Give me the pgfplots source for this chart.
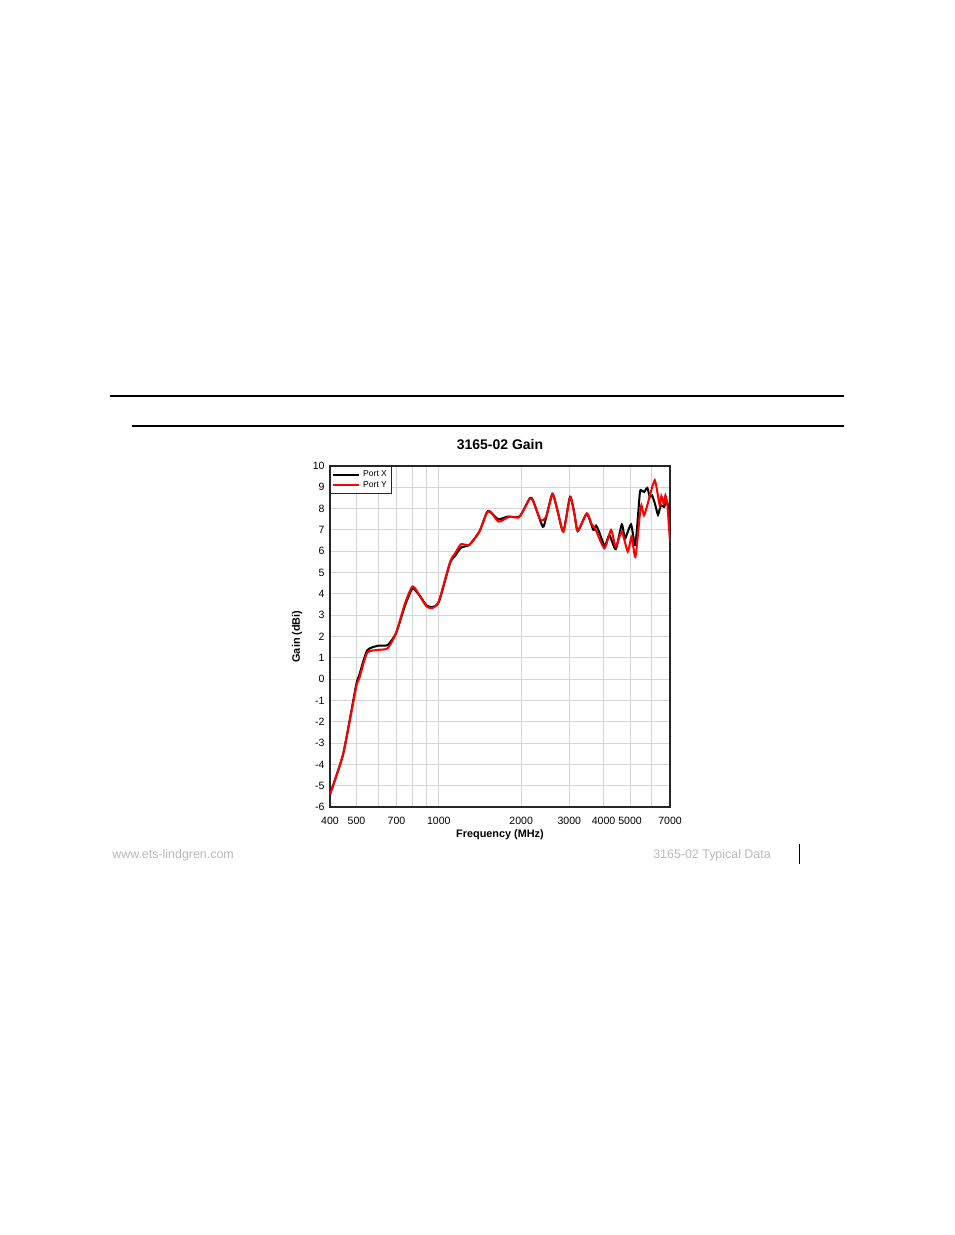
\documentclass[border=0pt]{standalone}
\usepackage{fontspec}
\setmainfont{Liberation Sans}
\usepackage{pgfplots}
\pgfplotsset{compat=1.18}

\pgfplotstableread{
f g
400 -5.4
447 -3.5
498 -0.3
512 0.2
547 1.35
601 1.57
650 1.6
697 2.15
752 3.45
800 4.25
841 4.0
900 3.47
946 3.38
1000 3.62
1099 5.45
1146 5.78
1205 6.17
1292 6.3
1406 6.92
1494 7.8
1530 7.88
1650 7.5
1779 7.62
1952 7.6
2010 7.78
2154 8.5
2215 8.35
2398 7.15
2470 7.62
2600 8.69
2712 7.93
2852 6.92
3017 8.56
3128 7.78
3219 6.95
3473 7.75
3672 7.0
3755 7.2
3851 6.92
4040 6.25
4200 6.76
4432 6.1
4664 7.26
4793 6.6
5041 7.26
5228 6.3
5427 8.7
5500 8.86
5624 8.78
5783 8.97
5903 8.55
6020 8.62
6187 8.16
6328 7.71
6476 8.16
6657 8.08
6788 8.39
6885 8.16
7000 7.76
}\portx

\pgfplotstableread{
f g
400 -5.4
447 -3.5
498 -0.4
512 0.05
547 1.24
601 1.37
650 1.45
697 2.15
752 3.56
800 4.35
841 4.03
900 3.42
946 3.33
1000 3.66
1099 5.5
1146 5.9
1205 6.33
1292 6.3
1406 6.92
1494 7.78
1543 7.86
1654 7.39
1810 7.62
1952 7.58
2010 7.78
2154 8.48
2215 8.33
2354 7.47
2470 7.62
2602 8.69
2712 7.93
2852 6.92
3017 8.53
3128 7.78
3219 6.95
3473 7.78
3622 7.26
3724 7.08
4027 6.14
4261 7.0
4432 6.21
4664 6.92
4903 5.98
5066 6.68
5228 5.73
5427 7.69
5500 8.16
5624 7.69
5783 8.16
5953 8.78
6157 9.33
6292 8.78
6420 8.16
6508 8.59
6640 8.23
6732 8.62
6847 8.16
7000 6.43
}\porty

\begin{document}
\begin{tikzpicture}
% page in pixel units of the reference (y downwards)
\begin{scope}[x=0.641509bp, y=-0.641509bp]
  \path[use as bounding box] (0,0) rectangle (954,1235);
  \draw[line width=1.6bp] (110,396) -- (844,396);
  \draw[line width=0.75bp] (132,426) -- (844,426);
  \node[anchor=base west, inner sep=0, text=black!28,
        font=\fontsize{8}{9.6}\selectfont] at (112,858) {www.ets-lindgren.com};
  \node[anchor=base west, inner sep=0, text=black!28,
        font=\fontsize{8}{9.6}\selectfont] at (653,858) {3165-02 Typical Data};
  \draw[line width=0.6bp] (799,844) -- (799,864);
  \coordinate (axsw) at (330,807);
\end{scope}

\begin{axis}[
    at={(axsw)}, anchor=south west,
    width=218.11bp, height=218.75bp, scale only axis,
    xmode=log,
    xmin=400, xmax=7000, ymin=-6, ymax=10,
    xtick={400,500,600,700,800,900,1000,2000,3000,4000,5000,6000,7000},
    xticklabels={400,500,,700,,,1000,2000,3000,4000,5000,,7000},
    ytick={-6,-5,-4,-3,-2,-1,0,1,2,3,4,5,6,7,8,9,10},
    yticklabels={-6,-5,-4,-3,-2,-1,0,1,2,3,4,5,6,7,8,9,10},
    xminorgrids=false,
    minor tick length=0pt,
    major tick length=0pt,
    grid=major,
    major grid style={line width=0.6bp, draw=black!17},
    axis line style={line width=0.8bp, draw=black!85},
    tick label style={font=\fontsize{6.8}{8}\selectfont},
    xticklabel style={yshift=-3.2bp},
    title={3165-02 Gain},
    title style={font=\bfseries\fontsize{9}{11}\selectfont,
                 at={(axis description cs:0.5,1.035)}, anchor=center},
    xlabel={Frequency (MHz)},
    xlabel style={font=\bfseries\fontsize{7}{8}\selectfont,
                  at={(axis description cs:0.5,-0.082)}, anchor=center},
    ylabel={Gain (dBi)},
    ylabel style={font=\bfseries\fontsize{7}{8}\selectfont,
                  at={(axis description cs:-0.097,0.5)}, anchor=center},
    legend style={at={(0,1)}, anchor=north west, draw=black!85,
                  font=\fontsize{5.5}{6}\selectfont, inner sep=0.8pt,
                  row sep=-2.5pt, cells={anchor=west}},
    legend image code/.code={\draw[#1] (0cm,0cm) -- (0.6cm,0cm);},
  ]
  \addplot[black, line width=1.3bp, smooth, tension=0.35] table[x=f, y=g] {\portx};
  \addlegendentry{Port X}
  \addplot[red, line width=1.3bp, smooth, tension=0.35] table[x=f, y=g] {\porty};
  \addlegendentry{Port Y}
\end{axis}
\end{tikzpicture}
\end{document}
